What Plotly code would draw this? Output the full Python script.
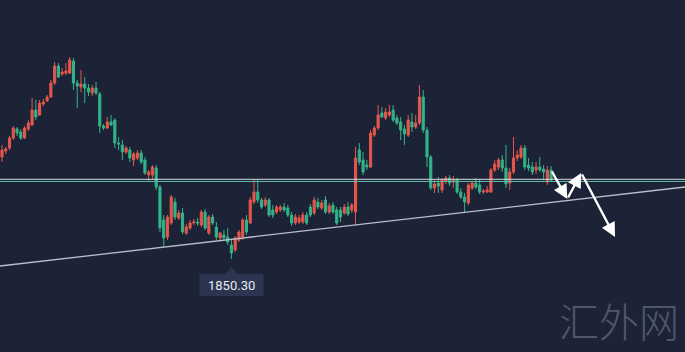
import plotly.graph_objects as go

# ---- data (price units) ----
open_ = [1952.3,1958.3,1961.3,1971.3,1980.3,1977.3,1971.3,1980.3,1984.3,1999.3,
         1994.3,2005.3,2008.3,2012.3,2026.3,2043.3,2035.3,2036.3,2036.3,2048.3,
         2026.3,2022.3,2025.3,2021.3,2016.3,2021.3,2015.3,1983.3,1981.3,1987.3,
         1989.3,1966.3,1964.3,1957.3,1959.3,1949.3,1951.3,1956.3,1949.3,1934.3,
         1934.3,1941.3,1922.3,1889.3,1872.3,1886.3,1907.3,1891.3,1896.3,1876.3,
         1881.3,1886.3,1887.3,1884.3,1897.3,1876.3,1892.3,1882.3,1871.3,1874.3,
         1872.3,1864.3,1859.3,1869.3,1872.3,1889.3,1886.3,1907.3,1917.3,1909.3,
         1904.3,1909.3,1899.3,1897.3,1899.3,1902.3,1901.3,1894.3,1886.3,1887.3,
         1887.3,1894.3,1902.3,1896.3,1907.3,1901.3,1909.3,1897.3,1904.3,1899.3,
         1899.3,1896.3,1902.3,1899.3,1897.3,1959.3,1949.3,1944.3,1942.3,1974.3,
         1981.3,1996.3,1991.3,1994.3,1999.3,1991.3,1987.3,1980.3,1974.3,1987.3,
         1982.3,1986.3,2012.3,1979.3,1952.3,1921.3,1926.3,1919.3,1928.3,1931.3,
         1927.3,1929.3,1917.3,1912.3,1906.3,1921.3,1926.3,1924.3,1917.3,1917.3,
         1917.3,1939.3,1942.3,1949.3,1941.3,1926.3,1937.3,1951.3,1952.3,1961.3,
         1944.3,1942.3,1939.3,1942.3,1940.3,1927.3,1939.3]
high = [1964.3,1962.3,1973.3,1983.3,1982.3,1980.3,1983.3,1989.3,2011.3,2009.3,
        2009.3,2010.3,2014.3,2029.3,2047.3,2046.3,2041.3,2046.3,2052.3,2051.3,
        2029.3,2039.3,2032.3,2025.3,2024.3,2027.3,2017.3,1985.3,1992.3,1994.3,
        1991.3,1972.3,1969.3,1963.3,1962.3,1957.3,1959.3,1959.3,1952.3,1939.3,
        1944.3,1944.3,1924.3,1894.3,1894.3,1914.3,1911.3,1899.3,1901.3,1885.3,
        1889.3,1890.3,1891.3,1899.3,1900.3,1894.3,1895.3,1887.3,1877.3,1879.3,
        1881.3,1869.3,1873.3,1879.3,1891.3,1894.3,1912.3,1929.3,1929.3,1911.3,
        1912.3,1911.3,1904.3,1904.3,1904.3,1906.3,1904.3,1897.3,1895.3,1894.3,
        1897.3,1897.3,1905.3,1912.3,1911.3,1909.3,1913.3,1906.3,1907.3,1902.3,
        1902.3,1905.3,1907.3,1906.3,1962.3,1966.3,1957.3,1949.3,1979.3,1983.3,
        2004.3,2002.3,2001.3,2004.3,2004.3,1994.3,1992.3,1984.3,1994.3,1996.3,
        1994.3,2024.3,2019.3,1982.3,1954.3,1929.3,1932.3,1931.3,1933.3,1934.3,
        1933.3,1931.3,1921.3,1916.3,1926.3,1928.3,1931.3,1930.3,1920.3,1923.3,
        1941.3,1949.3,1951.3,1954.3,1964.3,1941.3,1972.3,1959.3,1964.3,1964.3,
        1951.3,1947.3,1947.3,1952.3,1944.3,1943.3,1943.3]
low = [1947.3,1955.3,1959.3,1969.3,1973.3,1969.3,1970.3,1978.3,1983.3,1989.3,
       1993.3,2003.3,2007.3,2011.3,2024.3,2031.3,2033.3,2034.3,2035.3,2019.3,
       2001.3,2017.3,2006.3,2013.3,2013.3,2014.3,1976.3,1979.3,1980.3,1983.3,
       1961.3,1959.3,1949.3,1955.3,1947.3,1943.3,1949.3,1945.3,1934.3,1927.3,
       1929.3,1919.3,1877.3,1862.3,1869.3,1884.3,1889.3,1889.3,1875.3,1874.3,
       1879.3,1884.3,1883.3,1882.3,1879.3,1874.3,1884.3,1869.3,1868.3,1869.3,
       1864.3,1850.3,1857.3,1867.3,1869.3,1874.3,1885.3,1905.3,1906.3,1900.3,
       1902.3,1892.3,1891.3,1895.3,1897.3,1897.3,1892.3,1883.3,1884.3,1885.3,
       1885.3,1884.3,1892.3,1894.3,1900.3,1899.3,1895.3,1895.3,1895.3,1884.3,
       1887.3,1894.3,1893.3,1896.3,1884.3,1944.3,1934.3,1939.3,1941.3,1972.3,
       1979.3,1991.3,1989.3,1992.3,1987.3,1984.3,1969.3,1964.3,1972.3,1977.3,
       1980.3,1984.3,1976.3,1942.3,1919.3,1916.3,1916.3,1916.3,1925.3,1923.3,
       1921.3,1915.3,1910.3,1896.3,1904.3,1919.3,1920.3,1915.3,1915.3,1916.3,
       1916.3,1937.3,1939.3,1937.3,1921.3,1919.3,1935.3,1948.3,1950.3,1939.3,
       1938.3,1934.3,1935.3,1937.3,1929.3,1924.3,1927.3]
close = [1959.3,1960.3,1971.3,1981.3,1976.3,1971.3,1981.3,1986.3,1999.3,1992.3,
         2006.3,2007.3,2012.3,2026.3,2043.3,2032.3,2037.3,2038.3,2049.3,2026.3,
         2023.3,2025.3,2021.3,2017.3,2021.3,2016.3,1983.3,1981.3,1987.3,1984.3,
         1966.3,1965.3,1957.3,1961.3,1951.3,1955.3,1956.3,1947.3,1936.3,1937.3,
         1942.3,1922.3,1881.3,1871.3,1892.3,1912.3,1892.3,1896.3,1877.3,1882.3,
         1886.3,1887.3,1886.3,1897.3,1881.3,1892.3,1886.3,1872.3,1876.3,1871.3,
         1867.3,1856.3,1871.3,1877.3,1889.3,1877.3,1909.3,1917.3,1909.3,1902.3,
         1909.3,1894.3,1894.3,1902.3,1902.3,1899.3,1894.3,1886.3,1892.3,1891.3,
         1894.3,1886.3,1894.3,1909.3,1902.3,1906.3,1897.3,1903.3,1897.3,1886.3,
         1892.3,1902.3,1895.3,1904.3,1951.3,1947.3,1937.3,1942.3,1976.3,1981.3,
         1994.3,1992.3,1997.3,1997.3,1989.3,1986.3,1979.3,1975.3,1989.3,1982.3,
         1986.3,2012.3,1979.3,1952.3,1921.3,1925.3,1923.3,1929.3,1931.3,1926.3,
         1929.3,1917.3,1912.3,1907.3,1924.3,1926.3,1922.3,1917.3,1918.3,1919.3,
         1939.3,1945.3,1949.3,1941.3,1925.3,1937.3,1951.3,1954.3,1961.3,1942.3,
         1941.3,1937.3,1942.3,1939.3,1937.3,1939.3,1929.3]

n = len(close)
idx = list(range(n))

support_levels = [1930.0, 1927.8]          # horizontal level (double line)
trend_from = (-0.53, 1843.3)              # rising trendline anchors (index, price)
trend_to = (181.6, 1922.3)
arrow_path = [(146.0, 1939.3), (150.3, 1910.3), (154.0, 1936.3), (163.0, 1872.3)]
low_label = "1850.30"
watermark = "汇外网"

BG = "#1d2336"
RED = "#e4574c"
GREEN = "#32b48a"

fig = go.Figure()
fig.add_trace(go.Candlestick(
    x=idx, open=open_, high=high, low=low, close=close,
    increasing=dict(line=dict(color=RED, width=1), fillcolor=RED),
    decreasing=dict(line=dict(color=GREEN, width=1), fillcolor=GREEN),
    whiskerwidth=0, showlegend=False, hoverinfo="skip"))

# horizontal level lines
fig.add_shape(type="line", xref="paper", x0=0, x1=1, yref="y",
              y0=support_levels[0], y1=support_levels[0],
              line=dict(color="#d3dde2", width=1))
fig.add_shape(type="line", xref="paper", x0=0, x1=1, yref="y",
              y0=support_levels[1], y1=support_levels[1],
              line=dict(color="#5fb5a6", width=1))
# trendline
fig.add_shape(type="line", xref="x", yref="y",
              x0=trend_from[0], y0=trend_from[1], x1=trend_to[0], y1=trend_to[1],
              line=dict(color="#b9bec8", width=1.3))

# arrows
for (x0, y0), (x1, y1) in zip(arrow_path[:-1], arrow_path[1:]):
    fig.add_annotation(x=x1, y=y1, ax=x0, ay=y0, xref="x", yref="y",
                       axref="x", ayref="y", text="", showarrow=True,
                       arrowhead=2, arrowsize=1.2, arrowwidth=2.4,
                       arrowcolor="#ffffff", standoff=0, startstandoff=0)

# low label box
imin = min(idx, key=lambda i: low[i])
lowv = low[imin]
fig.add_shape(type="rect", xref="x", yref="y", xsizemode="pixel", ysizemode="pixel",
              xanchor=imin, yanchor=lowv, x0=-32, x1=32, y0=-37, y1=-15,
              fillcolor="#2b3550", line=dict(width=0))
fig.add_shape(type="path", xref="x", yref="y", xsizemode="pixel", ysizemode="pixel",
              xanchor=imin, yanchor=lowv, path="M -6 -15 L 0 -8 L 6 -15 Z",
              fillcolor="#2b3550", line=dict(width=0))
fig.add_annotation(x=imin, y=lowv, xref="x", yref="y", text=low_label,
                   showarrow=False, yshift=-26, yanchor="middle",
                   font=dict(family="Roboto, Arial, sans-serif", size=13, color="#e8ebf2"))

# watermark
fig.add_annotation(x=0.903, y=0.09, xref="paper", yref="paper", text=watermark,
                   showarrow=False, xanchor="center", yanchor="middle",
                   font=dict(family="Noto Sans CJK SC", size=40, color="#4f576a", weight=300))

fig.update_layout(
    width=685, height=352, margin=dict(l=0, r=0, t=0, b=0),
    paper_bgcolor=BG, plot_bgcolor=BG, boxgap=0.2,
    xaxis=dict(range=[-0.53, 181.6], visible=False, rangeslider=dict(visible=False)),
    yaxis=dict(range=[1757.3, 2109.3], visible=False),
)
fig.write_html("out.html")
